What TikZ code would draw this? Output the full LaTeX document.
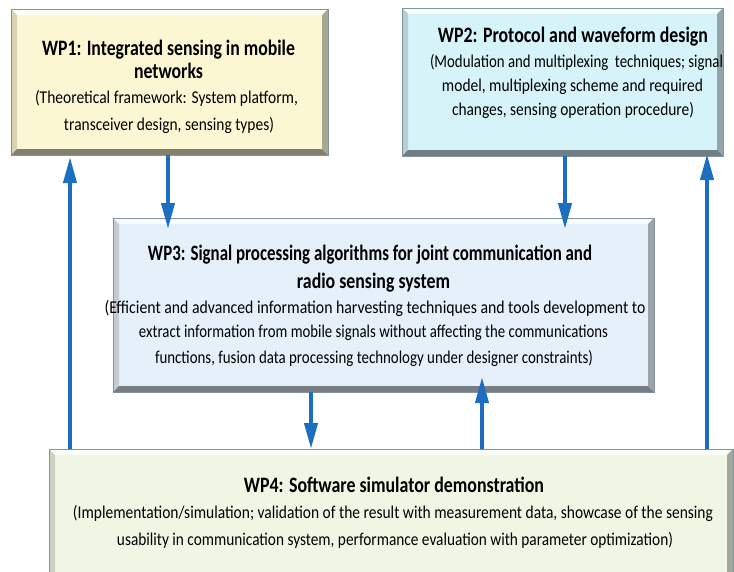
\documentclass[tikz,border=0pt]{standalone}
\usepackage{fontspec}
\usepackage{graphicx}
\setmainfont{Carlito}
\usetikzlibrary{arrows.meta,calc}

\definecolor{wpyellow}{RGB}{252,247,211}
\definecolor{wpcyan}{RGB}{214,243,249}
\definecolor{wpblue}{RGB}{229,240,250}
\definecolor{wpgreen}{RGB}{239,247,228}
\definecolor{flowblue}{RGB}{28,110,192}
\definecolor{edgegray}{RGB}{130,146,160}

% set one line of text to a given width, keeping its height
\newcommand\fitline[2]{\resizebox{#1pt}{\height}{#2}}

% bevelled panel drawn around a named rectangle node
\newcommand\bevelpanel[2]{%
  \fill[#2] (#1.south west) rectangle (#1.north east);
  \fill[#2!25!white] (#1.north west) -- (#1.north east)
     -- ($(#1.north east)+(-6,6)$) -- ($(#1.north west)+(6,6)$) -- cycle;
  \fill[#2!85!black] (#1.north west) -- ($(#1.north west)+(6,6)$)
     -- ($(#1.south west)+(6,-6)$) -- (#1.south west) -- cycle;
  \fill[#2!68!black] (#1.north east) -- (#1.south east)
     -- ($(#1.south east)+(-6,-6)$) -- ($(#1.north east)+(-6,6)$) -- cycle;
  \fill[#2!52!black] (#1.south west) -- (#1.south east)
     -- ($(#1.south east)+(-6,-6)$) -- ($(#1.south west)+(6,-6)$) -- cycle;
  \draw[edgegray, line width=0.8pt] (#1.south west) rectangle (#1.north east);
}

\tikzset{
  x=1pt, y=-1pt,
  panel/.style={rectangle, inner sep=0pt, outer sep=0pt, draw=none},
  ttl/.style={anchor=base, inner sep=0pt, font=\bfseries\fontsize{22}{26}\selectfont},
  bdy/.style={anchor=base, inner sep=0pt, font=\fontsize{18}{22}\selectfont},
  flow/.style={draw=flowblue, line width=4pt,
    -{Triangle[length=26pt,width=13pt]}}
}

\begin{document}
\begin{tikzpicture}
\useasboundingbox (0,0) rectangle (734,571);
\fill[white] (0,0) rectangle (734,571);

% panels
\node[panel, minimum width=317pt, minimum height=146pt] (wp1) at (169.5,82) {};
\node[panel, minimum width=321pt, minimum height=148pt] (wp2) at (562.5,82) {};
\node[panel, minimum width=541pt, minimum height=174pt] (wp3) at (383.5,305) {};
\node[panel, minimum width=684pt, minimum height=129pt] (wp4) at (391,513.5) {};
\bevelpanel{wp1}{wpyellow}
\bevelpanel{wp2}{wpcyan}
\bevelpanel{wp3}{wpblue}
\bevelpanel{wp4}{wpgreen}

% WP1 text
\node[ttl] (wp1a) at (168.5,55) {\fitline{253}{WP1: Integrated sensing in mobile}};
\node[ttl] (wp1b) at (168.5,78) {\fitline{69}{networks}};
\node[bdy] (wp1c) at (166.5,103) {\fitline{263}{(Theoretical framework: System platform,}};
\node[bdy] (wp1d) at (169,130) {\fitline{210}{transceiver design, sensing types)}};

% WP2 text
\node[ttl] (wp2a) at (573,42) {\fitline{270}{WP2: Protocol and waveform design}};
\node[bdy] (wp2b) at (576.5,67) {\fitline{293}{(Modulation and multiplexing\ \ techniques; signal}};
\node[bdy] (wp2c) at (572.5,91) {\fitline{261}{model, multiplexing scheme and required}};
\node[bdy] (wp2d) at (573,115) {\fitline{242}{changes, sensing operation procedure)}};

% WP3 text
\node[ttl] (wp3a) at (370,260) {\fitline{444}{WP3: Signal processing algorithms for joint communication and}};
\node[ttl] (wp3b) at (373.5,288) {\fitline{153}{radio sensing system}};
\node[bdy] (wp3c) at (375,313) {\fitline{541}{(Efficient and advanced information harvesting techniques and tools development to}};
\node[bdy] (wp3d) at (373.5,337) {\fitline{469}{extract information from mobile signals without affecting the communications}};
\node[bdy] (wp3e) at (374,363) {\fitline{438}{functions, fusion data processing technology under designer constraints)}};

% WP4 text
\node[ttl] (wp4a) at (394,492.5) {\fitline{300}{WP4: Software simulator demonstration}};
\node[bdy] (wp4b) at (393,518) {\fitline{640}{(Implementation/simulation; validation of the result with measurement data, showcase of the sensing}};
\node[bdy] (wp4c) at (395,545) {\fitline{556}{usability in communication system, performance evaluation with parameter optimization)}};

% work-package links
\draw[flow] (wp4.north -| 70,0) -- ($(wp1.south -| 70,0)+(0,2)$);
\draw[flow] (wp1.south -| 168,0) -- ($(wp3.north -| 168,0)+(0,11)$);
\draw[flow] (wp2.south -| 565,0) -- ($(wp3.north -| 565,0)+(0,11)$);
\draw[flow] (wp4.north -| 707,0) -- ($(wp2.south -| 707,0)+(0,-2)$);
\draw[flow] (wp3.south -| 311,0) -- (wp4.north -| 311,0);
\draw[flow] (wp4.north -| 482,0) -- ($(wp3.south -| 482,0)+(0,-15)$);
\end{tikzpicture}
\end{document}
